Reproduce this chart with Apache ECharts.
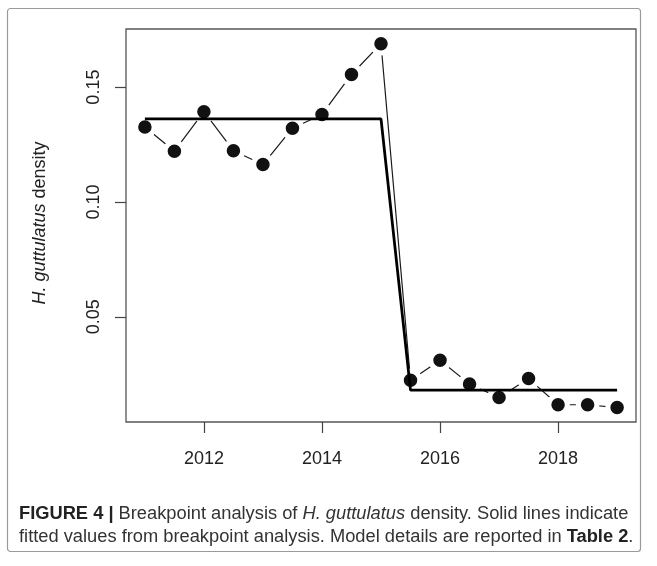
<!DOCTYPE html>
<html>
<head>
<meta charset="utf-8">
<script src="https://cdn.jsdelivr.net/npm/echarts@6/dist/echarts.min.js"></script>
<style>
html,body{margin:0;padding:0;background:#fff;}
#chart{width:657px;height:566px;}
</style>
</head>
<body>
<div id="chart"></div>
<script>
// ---- data ----
const years = [2011, 2011.5, 2012, 2012.5, 2013, 2013.5, 2014, 2014.5, 2015, 2015.5, 2016, 2016.5, 2017, 2017.5, 2018, 2018.5, 2019];
const density = [0.1326, 0.1221, 0.1393, 0.1223, 0.1163, 0.1321, 0.1381, 0.1555, 0.1689, 0.0224, 0.0311, 0.0207, 0.0149, 0.0231, 0.0117, 0.0117, 0.0105];
const fitYears = [2011, 2015, 2015.5, 2019];
const fitValues = [0.1362, 0.1362, 0.0181, 0.0181];
const xTicks = [2012, 2014, 2016, 2018];
const yTicks = [0.05, 0.10, 0.15];
const xRange = [2010.68, 2019.32];
const yRange = [0.0042, 0.1753];

const pts = years.map((y, i) => [y, density[i]]);
const fit = fitYears.map((y, i) => [y, fitValues[i]]);

const chart = echarts.init(document.getElementById('chart'), null, {renderer: 'canvas'});
const axisColor = '#444';
const font = 'Liberation Sans, Arial, sans-serif';
const capSize = 18.3;

chart.setOption({
  animation: false,
  backgroundColor: '#fff',
  grid: {left: 126, top: 29, right: 21, bottom: 144, show: true, borderColor: '#555', borderWidth: 1.3, backgroundColor: 'transparent'},
  xAxis: {
    type: 'value', min: xRange[0], max: xRange[1],
    axisLine: {show: false},
    splitLine: {show: false},
    axisTick: {show: true, customValues: xTicks, length: 11, lineStyle: {color: axisColor, width: 1.2}},
    axisLabel: {customValues: xTicks, margin: 28, fontSize: 18, color: '#222', fontFamily: font, formatter: v => String(v)}
  },
  yAxis: {
    type: 'value', min: yRange[0], max: yRange[1],
    axisLine: {show: false},
    splitLine: {show: false},
    axisTick: {show: true, customValues: yTicks, length: 11, lineStyle: {color: axisColor, width: 1.2}},
    axisLabel: {customValues: yTicks, rotate: 90, margin: 23, fontSize: 18, color: '#222', fontFamily: font, formatter: v => v.toFixed(2)}
  },
  series: [
    {
      type: 'line', data: pts, z: 2,
      symbol: 'circle', symbolSize: 18.5,
      itemStyle: {color: '#111', borderColor: '#fff', borderWidth: 5},
      lineStyle: {color: '#1a1a1a', width: 1.2},
      emphasis: {disabled: true}
    },
    {
      type: 'line', data: fit, z: 3,
      symbol: 'none',
      lineStyle: {color: '#000', width: 2.8},
      emphasis: {disabled: true}
    }
  ],
  graphic: [
    {type: 'rect', shape: {x: 7.5, y: 8.5, width: 633, height: 543, r: 3}, style: {fill: 'none', stroke: '#9a9a9a', lineWidth: 1.2}, z: 0},
    {type: 'text', x: 40, y: 223, rotation: Math.PI / 2, style: {
      text: '{i|H. guttulatus} density', align: 'center', verticalAlign: 'middle',
      fontSize: 18, fontFamily: font, fill: '#222',
      rich: {i: {fontStyle: 'italic', fontSize: 18, fontFamily: font, fill: '#222'}}
    }},
    {type: 'text', x: 19, y: 514, style: {
      text: '{b|FIGURE 4 |} Breakpoint analysis of {i|H. guttulatus} density. Solid lines indicate',
      verticalAlign: 'middle', fontSize: capSize, fontFamily: font, fill: '#333',
      rich: {b: {fontWeight: 'bold', fontSize: capSize, fontFamily: font, fill: '#222'}, i: {fontStyle: 'italic', fontSize: capSize, fontFamily: font, fill: '#333'}}
    }},
    {type: 'text', x: 19, y: 537, style: {
      text: 'fitted values from breakpoint analysis. Model details are reported in {b|Table 2}.',
      verticalAlign: 'middle', fontSize: capSize, fontFamily: font, fill: '#333',
      rich: {b: {fontWeight: 'bold', fontSize: capSize, fontFamily: font, fill: '#222'}}
    }}
  ]
});
</script>
</body>
</html>
